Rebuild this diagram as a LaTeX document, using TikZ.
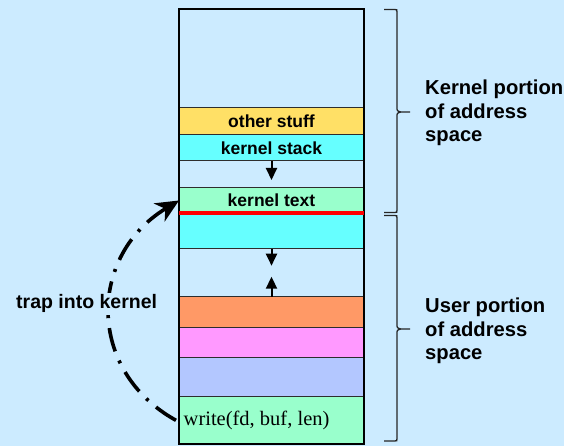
\documentclass[tikz,border=0pt]{standalone}
\usepackage{fontspec}
\setmainfont{Liberation Sans}
\newfontfamily\serifm{Liberation Serif}
\usetikzlibrary{arrows.meta}
\definecolor{bgblue}{RGB}{204,235,255}
\definecolor{yel}{RGB}{255,224,102}
\definecolor{cya}{RGB}{102,255,255}
\definecolor{grn}{RGB}{153,255,204}
\definecolor{org}{RGB}{255,153,102}
\definecolor{pnk}{RGB}{255,153,255}
\definecolor{lav}{RGB}{179,199,255}
\definecolor{sep}{RGB}{45,45,45}
\tikzset{
  band/.style={draw=sep, line width=1pt, anchor=north west, minimum width=185pt, inner sep=0pt, outer sep=0pt,
    font=\fontsize{17.5}{20}\selectfont\bfseries},
  growarrow/.style={line width=2pt, -{Triangle[length=12pt 0 0,width=11pt 0 0]}},
  bracestyle/.style={draw=black!85, line width=1.3pt},
  sidelabel/.style={anchor=west, align=left, inner sep=0pt, font=\fontsize{20.2}{23.5}\selectfont\bfseries},
  trap/.style={line width=3.6pt, dash pattern=on 24pt off 10pt on 3pt off 10pt,
    -{Stealth[length=23pt 0 0,width=21pt 0 0,inset=7pt]}},
}
% #1 top, #2 tip, #3 bottom (y values)
\newcommand\addrbrace[3]{%
  \draw[bracestyle] (384,#1) -- (394.5,#1) .. controls (397,#1) .. (397,#1+2.5)
    -- (397,#2-5) .. controls (397,#2-1) .. (401,#2) -- (410,#2)
    -- (401,#2) .. controls (397,#2+1) .. (397,#2+5)
    -- (397,#3-2.5) .. controls (397,#3) .. (394.5,#3) -- (384,#3);}
\begin{document}
\begin{tikzpicture}[x=1pt,y=-1pt]
\fill[bgblue] (0,0) rectangle (564,446);
\useasboundingbox (0,0) rectangle (564,446);

\node[band, fill=bgblue, minimum height=99pt] (b1) at (179,9) {};
\node[band, fill=yel, minimum height=26.7pt] (b2) at (179,108) {other stuff};
\node[band, fill=cya, minimum height=26.3pt] (b3) at (179,134.7) {kernel stack};
\node[band, fill=bgblue, minimum height=26.7pt] (b4) at (179,161) {};
\node[band, fill=grn, minimum height=25.6pt] (b5) at (179,187.7) {kernel text};
\node[band, fill=cya, minimum height=35.4pt] (b6) at (179,213.3) {};
\node[band, fill=bgblue, minimum height=48pt] (b7) at (179,248.7) {};
\node[band, fill=org, minimum height=30.6pt] (b8) at (179,296.7) {};
\node[band, fill=pnk, minimum height=30pt] (b9) at (179,327.3) {};
\node[band, fill=lav, minimum height=39.4pt] (b10) at (179,357.3) {};
\node[band, fill=grn, minimum height=47.3pt] (b11) at (179,396.7) {};
\node[anchor=west, inner sep=0pt, font=\serifm\fontsize{20.5}{22}\selectfont] (wr) at ([xshift=4.5pt]b11.west) {write(fd, buf, len)};

\draw[black, line width=2pt] (b1.north west) rectangle (b11.south east);
\draw[red, line width=4pt] (b5.south west) -- (b5.south east);

\draw[growarrow] (b4.north) -- ([yshift=-19pt]b4.north);
\draw[growarrow] (b7.north) -- ([yshift=-17pt]b7.north);
\draw[growarrow] (b7.south) -- ([yshift=20pt]b7.south);

\addrbrace{9.5}{112}{212.5}
\addrbrace{215.5}{329}{441}
\node[sidelabel] (kl) at (425,113) {Kernel portion\\of address\\space};
\node[sidelabel] (ul) at (425,331) {User portion\\of address\\space};

\draw[trap] ([xshift=-3pt]b11.west) .. controls +(-90,-50) and +(-91,55) .. (b5.west);
\node[anchor=west, fill=bgblue, inner sep=1pt, font=\fontsize{19.5}{22}\selectfont\bfseries] (tl) at (15,303) {trap into kernel};
\end{tikzpicture}
\end{document}
